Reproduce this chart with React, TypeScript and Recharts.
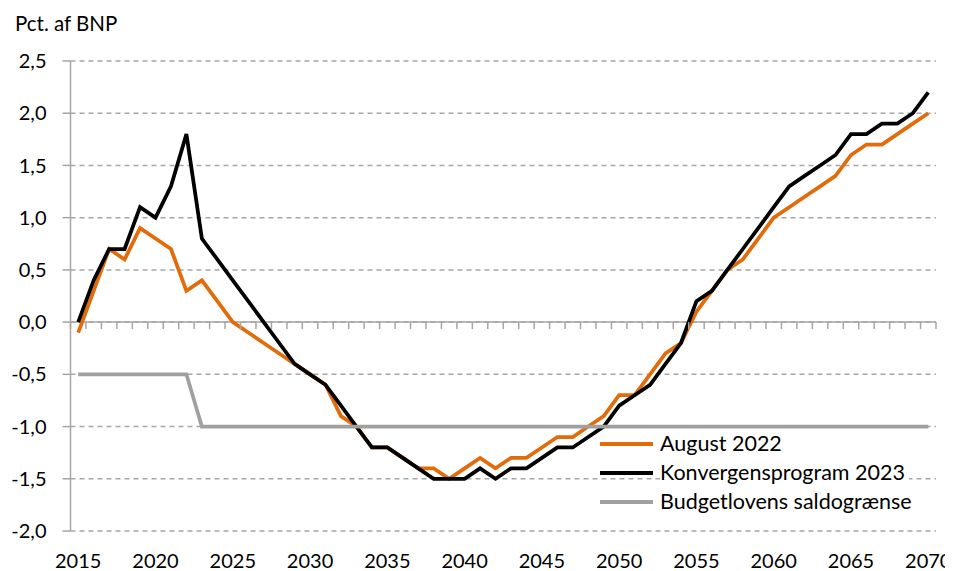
import { LineChart, Line, XAxis, YAxis, CartesianGrid, ReferenceLine, ReferenceDot } from 'recharts';

const years = [
  2015, 2016, 2017, 2018, 2019, 2020, 2021, 2022, 2023, 2024,
  2025, 2026, 2027, 2028, 2029, 2030, 2031, 2032, 2033, 2034,
  2035, 2036, 2037, 2038, 2039, 2040, 2041, 2042, 2043, 2044,
  2045, 2046, 2047, 2048, 2049, 2050, 2051, 2052, 2053, 2054,
  2055, 2056, 2057, 2058, 2059, 2060, 2061, 2062, 2063, 2064,
  2065, 2066, 2067, 2068, 2069, 2070,
];

const august2022 = [
  -0.1, 0.3, 0.7, 0.6, 0.9, 0.8, 0.7, 0.3, 0.4, 0.2,
  0.0, -0.1, -0.2, -0.3, -0.4, -0.5, -0.6, -0.9, -1.0, -1.2,
  -1.2, -1.3, -1.4, -1.4, -1.5, -1.4, -1.3, -1.4, -1.3, -1.3,
  -1.2, -1.1, -1.1, -1.0, -0.9, -0.7, -0.7, -0.5, -0.3, -0.2,
  0.1, 0.3, 0.5, 0.6, 0.8, 1.0, 1.1, 1.2, 1.3, 1.4,
  1.6, 1.7, 1.7, 1.8, 1.9, 2.0,
];

const konvergens2023 = [
  0.0, 0.4, 0.7, 0.7, 1.1, 1.0, 1.3, 1.8, 0.8, 0.6,
  0.4, 0.2, 0.0, -0.2, -0.4, -0.5, -0.6, -0.8, -1.0, -1.2,
  -1.2, -1.3, -1.4, -1.5, -1.5, -1.5, -1.4, -1.5, -1.4, -1.4,
  -1.3, -1.2, -1.2, -1.1, -1.0, -0.8, -0.7, -0.6, -0.4, -0.2,
  0.2, 0.3, 0.5, 0.7, 0.9, 1.1, 1.3, 1.4, 1.5, 1.6,
  1.8, 1.8, 1.9, 1.9, 2.0, 2.2,
];

const saldograense = [
  -0.5, -0.5, -0.5, -0.5, -0.5, -0.5, -0.5, -0.5, -1.0, -1.0,
  -1.0, -1.0, -1.0, -1.0, -1.0, -1.0, -1.0, -1.0, -1.0, -1.0,
  -1.0, -1.0, -1.0, -1.0, -1.0, -1.0, -1.0, -1.0, -1.0, -1.0,
  -1.0, -1.0, -1.0, -1.0, -1.0, -1.0, -1.0, -1.0, -1.0, -1.0,
  -1.0, -1.0, -1.0, -1.0, -1.0, -1.0, -1.0, -1.0, -1.0, -1.0,
  -1.0, -1.0, -1.0, -1.0, -1.0, -1.0,
];

const xLabelTicks = [2015, 2020, 2025, 2030, 2035, 2040, 2045, 2050, 2055, 2060, 2065, 2070];
const yTicks = [-2.0, -1.5, -1.0, -0.5, 0.0, 0.5, 1.0, 1.5, 2.0, 2.5];

const series = [
  { key: 'august', name: 'August 2022', color: '#E26B0A' },
  { key: 'konv', name: 'Konvergensprogram 2023', color: '#000000' },
  { key: 'budget', name: 'Budgetlovens saldogrænse', color: '#A0A0A0' },
];

const data = years.map((year, i) => ({
  year,
  august: august2022[i],
  konv: konvergens2023[i],
  budget: saldograense[i],
}));

// category boundaries (tick marks sit between the years on the 0-line)
const boundaries = [...years.map(y => y - 0.5), years[years.length - 1] + 0.5];

const axisGrey = '#A6A6A6';
const font = 'Lato, "Open Sans", sans-serif';

export default function App() {
  return (
    <div style={{ position: 'relative', width: 945, height: 563, fontFamily: font, color: '#000' }}>
      <div style={{ position: 'absolute', left: 7, top: 5, fontSize: 20.5, lineHeight: '20px' }}>
        Pct. af BNP
      </div>

      <LineChart width={945} height={563} data={data} margin={{ top: 53, right: 17, bottom: 10, left: 0 }}>
        <CartesianGrid horizontal vertical={false} stroke={axisGrey} strokeWidth={1.5} strokeDasharray="5 4" />
        <XAxis
          dataKey="year"
          type="number"
          domain={[2014.5, 2070.5]}
          ticks={xLabelTicks}
          interval={0}
          allowDataOverflow
          axisLine={false}
          tickLine={false}
          tickSize={0}
          tickMargin={23}
          height={30}
          tick={{ fill: '#000', fontSize: 20, fontFamily: font }}
        />
        <YAxis
          domain={[-2, 2.5]}
          ticks={yTicks}
          width={62.5}
          axisLine={{ stroke: axisGrey, strokeWidth: 1.5 }}
          tickLine={{ stroke: axisGrey, strokeWidth: 1.5 }}
          tickSize={8}
          tickMargin={16}
          tick={{ fill: '#000', fontSize: 20, fontFamily: font }}
          tickFormatter={(v: number) => v.toFixed(1).replace('.', ',')}
        />
        <ReferenceLine y={0} stroke={axisGrey} strokeWidth={1.5} />
        {boundaries.map(b => (
          <ReferenceDot
            key={`tick-${b}`}
            x={b}
            y={0}
            shape={(p: any) => (
              <line x1={p.cx} y1={p.cy} x2={p.cx} y2={p.cy + 7} stroke={axisGrey} strokeWidth={1.5} />
            )}
          />
        ))}
        {series.map(s => (
          <Line
            key={s.key}
            dataKey={s.key}
            name={s.name}
            stroke={s.color}
            strokeWidth={3.75}
            dot={false}
            activeDot={false}
            type="linear"
            isAnimationActive={false}
          />
        ))}
      </LineChart>

      <div style={{ position: 'absolute', left: 592, top: 421 }}>
        {series.map(s => (
          <div key={s.key} style={{ display: 'flex', alignItems: 'center', height: 29 }}>
            <div style={{ width: 53, height: 4, background: s.color }} />
            <span style={{ marginLeft: 7, fontSize: 21.5, lineHeight: '25px', background: '#fff', paddingRight: 4 }}>
              {s.name}
            </span>
          </div>
        ))}
      </div>
    </div>
  );
}
